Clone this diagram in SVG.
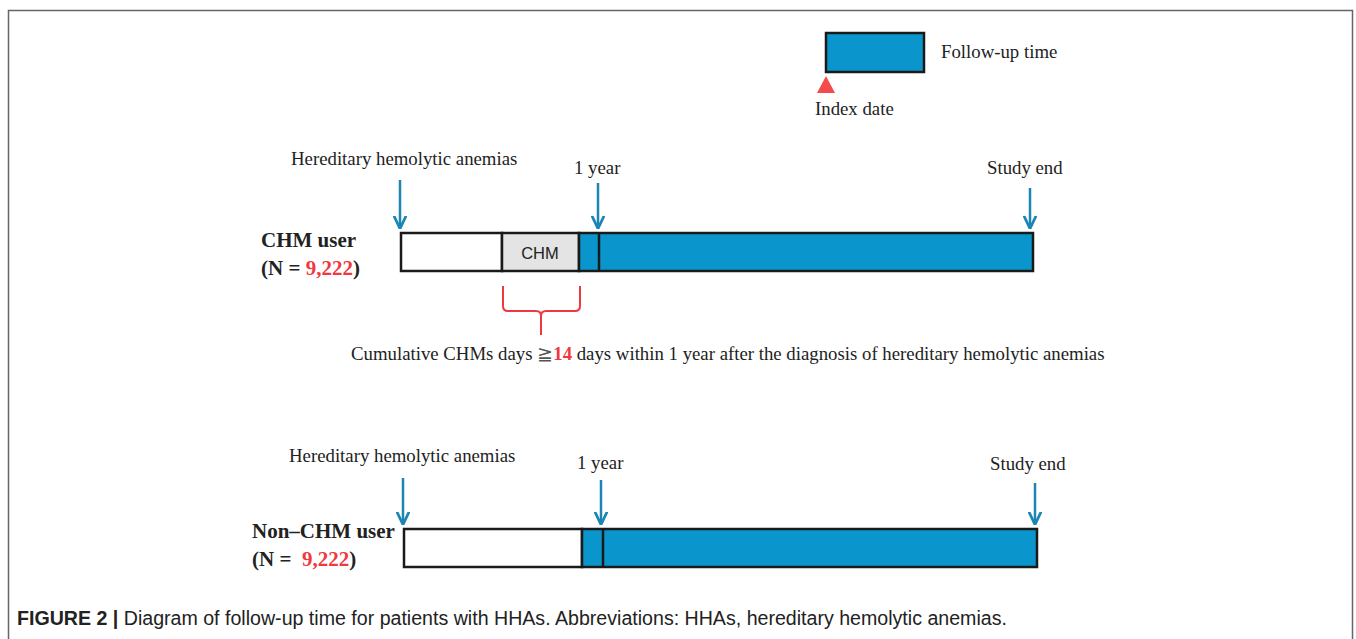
<svg xmlns="http://www.w3.org/2000/svg" width="1356" height="639" viewBox="0 0 1356 639">
<style>
.t{font-family:"Liberation Serif","Times New Roman",serif;font-size:18.8px;fill:#222}
.b{font-family:"Liberation Serif","Times New Roman",serif;font-size:21px;font-weight:bold;fill:#222}
.r{fill:#f0393f}
.bar{stroke:#1a1a1a;stroke-width:2.5}
.blue{fill:#0a96cc}
.arr{stroke:#1b86b4;stroke-width:2.5;fill:none}
.cap{font-family:"Liberation Sans",Arial,sans-serif;font-size:19.6px;fill:#222}
</style>
<defs>
<marker id="ah" viewBox="0 0 10 10" refX="9" refY="5" markerWidth="5.5" markerHeight="5.5" orient="auto" markerUnits="strokeWidth">
<path d="M0,0.5 L9.5,5 L0,9.5" fill="none" stroke="#1b86b4" stroke-width="2"/>
</marker>
</defs>
<rect x="0" y="0" width="1356" height="639" fill="#fff"/>
<path d="M8.5,639 V10.5 H1352.5 V639" fill="none" stroke="#666" stroke-width="1.5"/>

<g id="legend">
<rect x="826" y="33" width="98" height="39" class="bar blue"/>
<text x="941" y="58" class="t">Follow-up time</text>
<polygon points="826,76 835,93 817,93" fill="#f44a4a"/>
<text x="815" y="115" class="t">Index date</text>
</g>

<g id="chm-user">
<text x="261" y="247" class="b">CHM user</text>
<text x="261" y="275" class="b">(N = <tspan class="r">9,222</tspan>)</text>
<rect x="401" y="233" width="101" height="38" fill="#fff" class="bar"/>
<rect x="502" y="233" width="77" height="38" fill="#e3e4e3" class="bar"/>
<text x="540" y="258.5" text-anchor="middle" style="font-family:'Liberation Sans',Arial,sans-serif;font-size:16.5px;fill:#222">CHM</text>
<rect x="579" y="233" width="454" height="38" class="bar blue"/>
<line x1="599" y1="233" x2="599" y2="271" class="bar"/>
<text x="291" y="165" class="t">Hereditary hemolytic anemias</text>
<text x="574" y="174" class="t">1 year</text>
<text x="987" y="174" class="t">Study end</text>
</g>

<g id="chm-brace">
<path d="M503,286 V306 Q503,311 508,311 H536 Q541,311 541,316 V335 M541,316 Q541,311 546,311 H575 Q580,311 580,306 V286" fill="none" stroke="#f0393f" stroke-width="2"/>
<text x="351" y="360" class="t">Cumulative CHMs days <tspan fill="#555">≧</tspan><tspan class="r" font-weight="bold">14</tspan> days within 1 year after the diagnosis of hereditary hemolytic anemias</text>
</g>

<g id="non-chm-user">
<text x="252" y="538" class="b">Non–CHM user</text>
<text x="252" y="566" class="b">(N =&#160; <tspan class="r">9,222</tspan>)</text>
<rect x="404" y="529" width="178" height="38" fill="#fff" class="bar"/>
<rect x="582" y="529" width="455" height="38" class="bar blue"/>
<line x1="603" y1="529" x2="603" y2="567" class="bar"/>
<text x="289" y="462" class="t">Hereditary hemolytic anemias</text>
<text x="577" y="469" class="t">1 year</text>
<text x="990" y="470" class="t">Study end</text>
</g>

<g id="connectors">
<line x1="400" y1="180" x2="400" y2="228" class="arr" marker-end="url(#ah)"/>
<line x1="598" y1="183" x2="598" y2="228" class="arr" marker-end="url(#ah)"/>
<line x1="1030" y1="188" x2="1030" y2="228" class="arr" marker-end="url(#ah)"/>
<line x1="403" y1="478" x2="403" y2="524" class="arr" marker-end="url(#ah)"/>
<line x1="601" y1="480" x2="601" y2="524" class="arr" marker-end="url(#ah)"/>
<line x1="1035" y1="483" x2="1035" y2="524" class="arr" marker-end="url(#ah)"/>
</g>

<text x="17" y="625" class="cap"><tspan font-weight="bold">FIGURE 2 |</tspan> Diagram of follow-up time for patients with HHAs. Abbreviations: HHAs, hereditary hemolytic anemias.</text>
</svg>
